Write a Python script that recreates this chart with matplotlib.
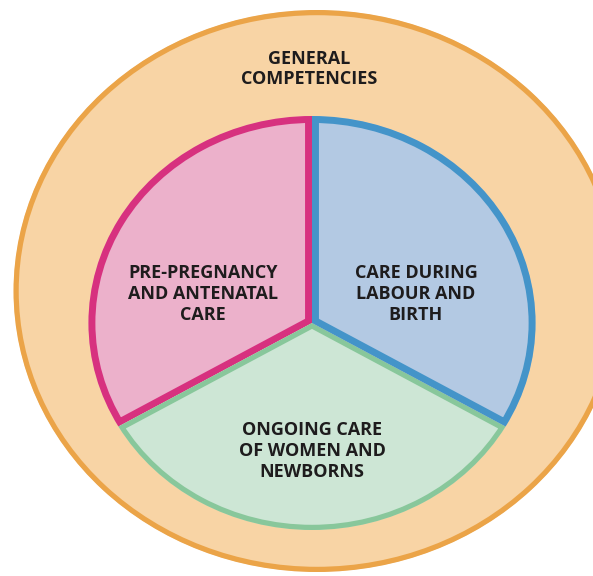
import matplotlib
matplotlib.use("Agg")
from matplotlib import pyplot as plt
from matplotlib.patches import Circle

# Segments of the inner pie, counterclockwise starting at 12 o'clock
segments = ["PRE-PREGNANCY\nAND ANTENATAL\nCARE",
            "ONGOING CARE\nOF WOMEN AND\nNEWBORNS",
            "CARE DURING\nLABOUR AND\nBIRTH"]
shares = [1, 1, 1]
fills = ["#ECB1CB", "#CDE6D5", "#B3C9E3"]
edges = ["#D7317F", "#88C79B", "#4494C9"]
outer_label = "GENERAL\nCOMPETENCIES"

W, H = 593, 576
sx = 1.08  # the picture is stretched a little horizontally

fig = plt.figure(figsize=(W / 100, H / 100), dpi=100)
ax = fig.add_axes([0, 0, 1, 1])

def to_data(px, py):
    return px / sx, H - py

# outer ring
ocx, ocy = to_data(317, 291)
outer = Circle((ocx, ocy), 281, facecolor="#F8D4A5", edgecolor="#EBA448", linewidth=7.5)
ax.add_patch(outer)
outer.set_clip_path(outer)

# inner pie, strokes drawn only on the inside of each wedge
pcx, pcy = to_data(312, 323)
wedges, _ = ax.pie(shares, colors=fills, startangle=90, counterclock=True,
                   center=(pcx, pcy), radius=207, frame=True)
widths = [10, 7.5, 10]
for w, ec, lw in zip(wedges, edges, widths):
    w.set_edgecolor(ec)
    w.set_linewidth(lw)
    w.set_clip_on(True)
    w.set_clip_path(w)

txt = dict(ha="center", va="center", fontsize=13, fontweight="bold",
           family=["Open Sans", "DejaVu Sans"], color="#1E1C1D", linespacing=1.2)
label_px = [(203, 294), (312, 451), (416, 294)]
for lab, (px, py) in zip(segments, label_px):
    ax.text(*to_data(px, py), lab, **txt)
ax.text(*to_data(309, 69), outer_label, **txt)

ax.set_xlim(0, W / sx)
ax.set_ylim(0, H)
ax.set_aspect("auto")
ax.axis("off")

plt.savefig("out.png", dpi=100)
